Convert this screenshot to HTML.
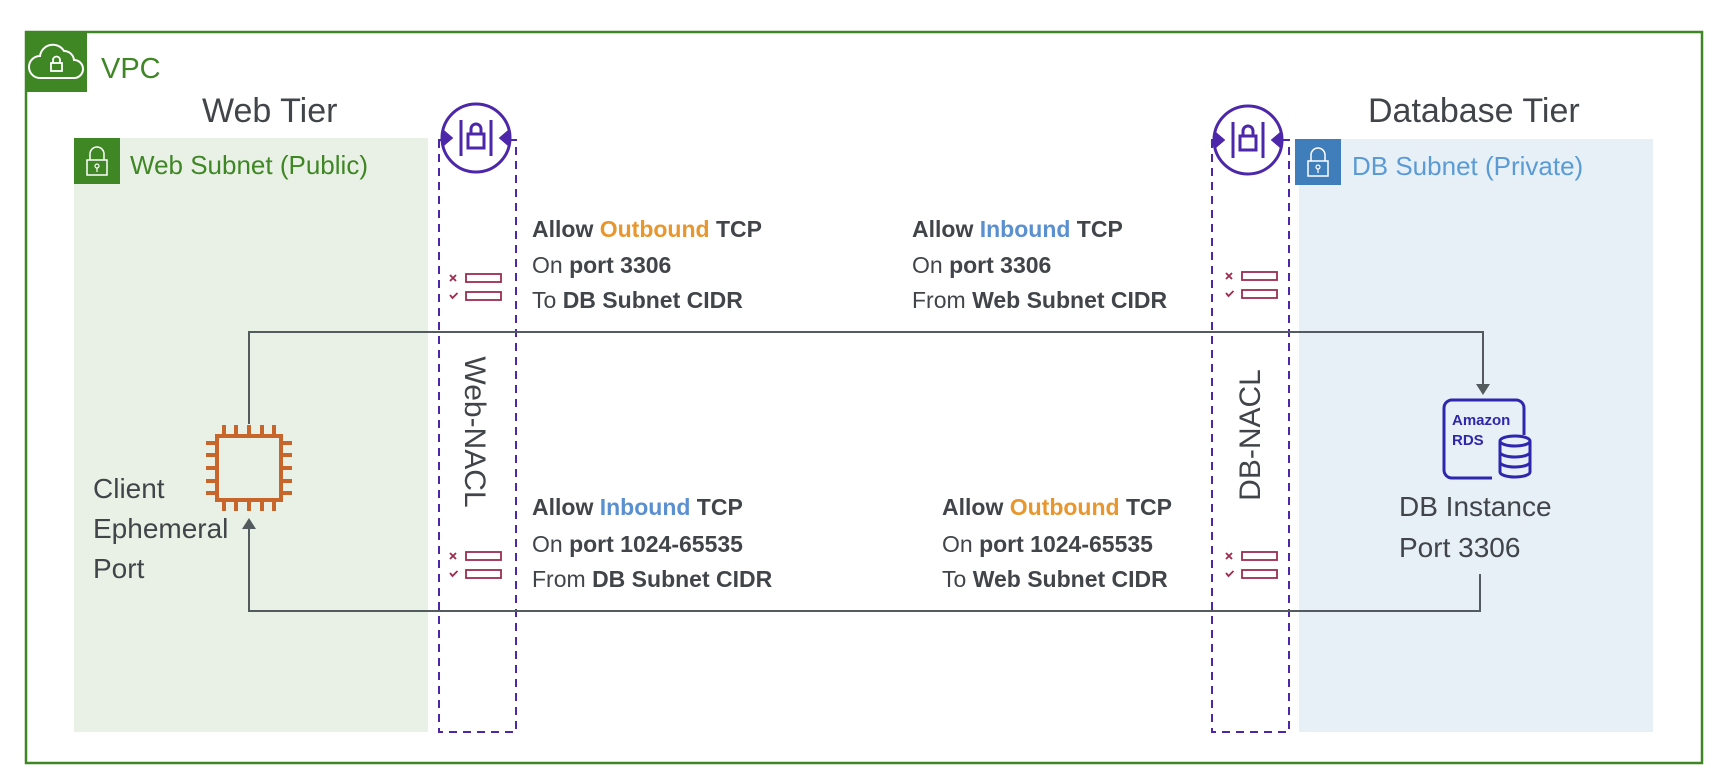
<!DOCTYPE html>
<html><head><meta charset="utf-8"><style>
html,body{margin:0;padding:0;background:#fff;}
svg{display:block;}
text{font-family:"Liberation Sans",sans-serif;fill:#414549;}
</style></head><body>
<svg width="1726" height="780" viewBox="0 0 1726 780" xmlns="http://www.w3.org/2000/svg">
<!-- VPC -->
<rect x="26" y="32" width="1676" height="731" fill="none" stroke="#3F8624" stroke-width="2.5"/>
<rect x="26" y="32" width="61" height="60" fill="#3F8624"/>
<path d="M40 78 h34 a9 9 0 0 0 0-18 a10 10 0 0 0-10-9 a13 13 0 0 0-24 5 a11 11 0 0 0 0 22z" fill="none" stroke="#fff" stroke-width="2"/>
<rect x="51" y="63" width="11" height="8" fill="none" stroke="#fff" stroke-width="1.8"/>
<path d="M53 63 v-3 a3.5 3.5 0 0 1 7 0 v3" fill="none" stroke="#fff" stroke-width="1.8"/>
<text x="101" y="78" font-size="29" style="fill:#3F8624">VPC</text>

<text x="202" y="122" font-size="34">Web Tier</text>
<text x="1368" y="122" font-size="34">Database Tier</text>

<!-- Web subnet -->
<rect x="74" y="138" width="354" height="594" fill="#E9F1E6"/>
<rect x="74" y="138" width="46" height="46" fill="#3F8624"/>
<rect x="87" y="160" width="20" height="15" fill="none" stroke="#fff" stroke-width="1.5"/>
<path d="M90 160 v-6 a7 7 0 0 1 14 0 v6" fill="none" stroke="#fff" stroke-width="1.5"/>
<circle cx="97" cy="166" r="2" fill="none" stroke="#fff" stroke-width="1.2"/><line x1="97" y1="168" x2="97" y2="172" stroke="#fff" stroke-width="1.2"/>
<text x="130" y="174" font-size="26" style="fill:#3F8624">Web Subnet (Public)</text>

<!-- DB subnet -->
<rect x="1299" y="139" width="354" height="593" fill="#E7F0F7"/>
<rect x="1295" y="139" width="46" height="46" fill="#3F7EBA"/>
<rect x="1308" y="161" width="20" height="15" fill="none" stroke="#fff" stroke-width="1.5"/>
<path d="M1311 161 v-6 a7 7 0 0 1 14 0 v6" fill="none" stroke="#fff" stroke-width="1.5"/>
<circle cx="1318" cy="167" r="2" fill="none" stroke="#fff" stroke-width="1.2"/><line x1="1318" y1="169" x2="1318" y2="173" stroke="#fff" stroke-width="1.2"/>
<text x="1352" y="175" font-size="26" style="fill:#5B9BD5">DB Subnet (Private)</text>

<!-- NACL columns -->
<rect x="439" y="140" width="77" height="592" fill="none" stroke="#4D27AA" stroke-width="2" stroke-dasharray="8,6"/>
<rect x="1212" y="140" width="77" height="592" fill="none" stroke="#4D27AA" stroke-width="2" stroke-dasharray="8,6"/>

<g fill="none" stroke="#4D27AA" stroke-width="3">
<circle cx="476" cy="138" r="34" fill="#fff"/>
<line x1="461" y1="120" x2="461" y2="156"/><line x1="491" y1="120" x2="491" y2="156"/>
<rect x="468" y="134" width="16" height="14"/><path d="M471 134 v-5 a5 5 0 0 1 10 0 v5"/>
<path d="M444 132 l7 6 -7 6z" fill="#4D27AA"/><path d="M508 132 l-7 6 7 6z" fill="#4D27AA"/>
<line x1="442" y1="138" x2="451" y2="138"/><line x1="501" y1="138" x2="510" y2="138"/>
</g>
<g fill="none" stroke="#4D27AA" stroke-width="3" transform="translate(772,2)">
<circle cx="476" cy="138" r="34" fill="#fff"/>
<line x1="461" y1="120" x2="461" y2="156"/><line x1="491" y1="120" x2="491" y2="156"/>
<rect x="468" y="134" width="16" height="14"/><path d="M471 134 v-5 a5 5 0 0 1 10 0 v5"/>
<path d="M444 132 l7 6 -7 6z" fill="#4D27AA"/><path d="M508 132 l-7 6 7 6z" fill="#4D27AA"/>
<line x1="442" y1="138" x2="451" y2="138"/><line x1="501" y1="138" x2="510" y2="138"/>
</g>

<!-- rule icons -->
<g id="rule" fill="none" stroke="#9D2C4F" stroke-width="1.8">
<path d="M450 275 l6 6 M456 275 l-6 6"/><rect x="466" y="274" width="35" height="8"/>
<path d="M450 295 l2.5 3 5-5"/><rect x="466" y="292" width="35" height="8"/>
</g>
<use href="#rule" transform="translate(0,278)"/>
<use href="#rule" transform="translate(776,-2)"/>
<use href="#rule" transform="translate(776,278)"/>

<text font-size="30" transform="translate(465,432) rotate(90)" text-anchor="middle">Web-NACL</text>
<text font-size="30" transform="translate(1260,435) rotate(-90)" text-anchor="middle">DB-NACL</text>

<!-- connectors -->
<g fill="none" stroke="#545B5F" stroke-width="2">
<polyline points="249,424 249,332 1483,332 1483,386"/>
<polyline points="1480,574 1480,611 249,611 249,526"/>
</g>
<path d="M1476 384 h14 l-7 11z" fill="#545B5F"/>
<path d="M242 529 h14 l-7 -11z" fill="#545B5F"/>

<!-- chip -->
<g stroke="#C7652B" stroke-width="4" fill="none">
<rect x="217" y="436" width="64" height="64"/>
<path d="M224 436v-11M236 436v-11M249 436v-11M262 436v-11M274 436v-11 M224 500v11M236 500v11M249 500v11M262 500v11M274 500v11 M217 443h-11M217 455h-11M217 468h-11M217 481h-11M217 493h-11 M281 443h11M281 455h11M281 468h11M281 481h11M281 493h11"/>
</g>
<text font-size="28" x="93" y="498">Client</text>
<text font-size="28" x="93" y="538">Ephemeral</text>
<text font-size="28" x="93" y="578">Port</text>

<!-- RDS -->
<g fill="none" stroke="#2E27AD" stroke-width="3">
<path d="M1492 478 h-40 a8 8 0 0 1-8-8 v-62 a8 8 0 0 1 8-8 h64 a8 8 0 0 1 8 8 v27"/>
<ellipse cx="1515" cy="441" rx="15" ry="5"/>
<path d="M1500 441 v31 a15 5 0 0 0 30 0 v-31 M1500 452 a15 5 0 0 0 30 0 M1500 462 a15 5 0 0 0 30 0"/>
</g>
<text x="1452" y="425" font-size="15" font-weight="bold" style="fill:#2E27AD">Amazon</text>
<text x="1452" y="445" font-size="15" font-weight="bold" style="fill:#2E27AD">RDS</text>
<text font-size="28" x="1399" y="516">DB Instance</text>
<text font-size="28" x="1399" y="557">Port 3306</text>

<!-- rule texts -->
<g font-size="23">
<text x="532" y="237" font-weight="bold">Allow <tspan style="fill:#E8962E">Outbound</tspan> TCP</text>
<text x="532" y="273">On <tspan font-weight="bold">port 3306</tspan></text>
<text x="532" y="308">To <tspan font-weight="bold">DB Subnet CIDR</tspan></text>

<text x="912" y="237" font-weight="bold">Allow <tspan style="fill:#5A8FD0">Inbound</tspan> TCP</text>
<text x="912" y="273">On <tspan font-weight="bold">port 3306</tspan></text>
<text x="912" y="308">From <tspan font-weight="bold">Web Subnet CIDR</tspan></text>

<text x="532" y="515" font-weight="bold">Allow <tspan style="fill:#5A8FD0">Inbound</tspan> TCP</text>
<text x="532" y="552">On <tspan font-weight="bold">port 1024-65535</tspan></text>
<text x="532" y="587">From <tspan font-weight="bold">DB Subnet CIDR</tspan></text>

<text x="942" y="515" font-weight="bold">Allow <tspan style="fill:#E8962E">Outbound</tspan> TCP</text>
<text x="942" y="552">On <tspan font-weight="bold">port 1024-65535</tspan></text>
<text x="942" y="587">To <tspan font-weight="bold">Web Subnet CIDR</tspan></text>
</g>
</svg>
</body></html>
